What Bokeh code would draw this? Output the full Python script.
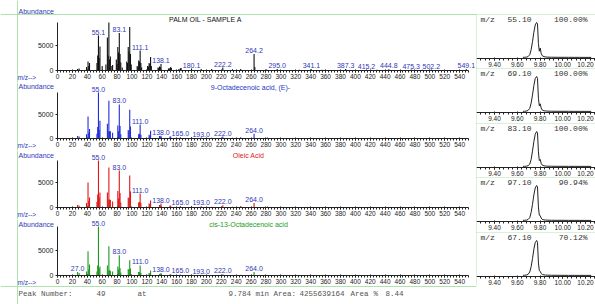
from bokeh.plotting import figure
from bokeh.layouts import column, row
from bokeh.models import (Range1d, FixedTicker, Label, LabelSet, ColumnDataSource,
                          Spacer, PrintfTickFormatter, Span)
from bokeh.core.properties import value
from bokeh.embed import file_html
from bokeh.resources import INLINE

# ---------------- data ----------------
# Spectrum 1: sample (PALM OIL - SAMPLE A)
sample_mz = [27, 29, 39, 41, 42, 43, 53, 54, 55, 56, 57, 60, 65, 67, 68, 69, 70, 71, 73, 74,
             79, 80, 81, 82, 83, 84, 85, 87, 93, 94, 95, 96, 97, 98, 99, 107, 108, 109, 110, 111,
             112, 113, 121, 122, 123, 124, 125, 126, 135, 136, 137, 138, 139, 149, 150, 151, 152,
             153, 163, 165, 166, 180, 193, 207, 222, 235, 246, 264, 265, 281, 295, 325, 341, 355,
             387, 415, 429, 445, 475, 490, 502, 520, 549]
sample_ab = [300, 400, 700, 1800, 900, 1500, 1500, 3000, 7000, 2500, 4800, 900, 1200, 6600, 3000,
             9600, 2200, 2800, 900, 1100, 2200, 1300, 4700, 3600, 7500, 3300, 1600, 600, 1800, 1500,
             4700, 3800, 8700, 3300, 1200, 900, 700, 2000, 1800, 4000, 1500, 600, 900, 800, 1500,
             1300, 2700, 900, 600, 500, 800, 700, 1300, 400, 350, 500, 700, 500, 300, 450, 500, 400,
             300, 300, 600, 250, 300, 3300, 700, 200, 300, 150, 250, 150, 300, 200, 150, 250, 200,
             150, 200, 120, 250]
sample_label_mz = [55, 83, 111, 139, 180, 222, 264, 295, 341, 387, 415, 445, 475, 502, 549]
sample_label_text = ["55.1", "83.1", "111.1", "138.1", "180.1", "222.2", "264.2", "295.0",
                     "341.1", "387.3", "415.2", "444.8", "475.3", "502.2", "549.1"]

# Library spectra (shared m/z list)
lib_mz = [27, 29, 39, 41, 42, 43, 53, 54, 55, 56, 57, 67, 68, 69, 70, 71, 74, 81, 82, 83, 84, 85,
          95, 96, 97, 98, 109, 110, 111, 112, 123, 124, 125, 137, 138, 139, 151, 152, 165, 180,
          193, 207, 222, 235, 246, 264, 282]
elaidic_ab = [500, 400, 900, 4600, 1200, 2000, 1000, 2400, 9600, 1800, 3700, 3100, 1500, 7900,
              1500, 1500, 1200, 2700, 1500, 7100, 2600, 900, 1800, 1500, 6000, 2500, 900, 1000,
              2900, 800, 800, 600, 1600, 500, 400, 600, 400, 400, 250, 250, 200, 150, 400, 150,
              250, 1000, 200]
oleic_ab = [500, 400, 900, 5000, 1300, 2000, 1100, 2600, 9400, 2000, 3000, 3000, 1600, 8000, 1600,
            1500, 1200, 3300, 1800, 7400, 2900, 1000, 2000, 1800, 6400, 3200, 1000, 1100, 2800,
            900, 800, 700, 1400, 500, 450, 800, 350, 400, 300, 300, 250, 150, 450, 150, 300, 900,
            200]
cis13_ab = [700, 500, 800, 4800, 1200, 2200, 800, 2000, 9700, 1400, 1800, 2000, 1000, 5800, 1100,
            900, 800, 1800, 1200, 4000, 1500, 600, 1300, 1100, 3000, 1400, 700, 700, 2000, 500,
            500, 400, 1000, 300, 250, 500, 200, 250, 200, 150, 150, 100, 250, 100, 150, 700, 100]
lib_label_mz = [55, 83, 111, 139, 165, 193, 222, 264]
lib_label_text = ["55.0", "83.0", "111.0", "138.0", "165.0", "193.0", "222.0", "264.0"]
cis13_label_mz = [27, 55, 83, 111, 139, 165, 193, 222, 264]
cis13_label_text = ["27.0", "55.0", "83.0", "111.0", "138.0", "165.0", "193.0", "222.0", "264.0"]

mz_ticks = [0, 20, 40, 60, 80, 100, 120, 140, 160, 180, 200, 220, 240, 260, 280, 300, 320, 340,
            360, 380, 400, 420, 440, 460, 480, 500, 520, 540]
mz_minor_ticks = list(range(0, 553, 4))
abundance_ticks = [0, 5000]

# Extracted ion chromatograms (% of max)
eic_time = [9.650, 9.665, 9.680, 9.695, 9.710, 9.722, 9.734, 9.746, 9.758, 9.770, 9.778, 9.786,
            9.794, 9.802, 9.810, 9.820, 9.835, 9.850, 9.870, 9.900, 9.950, 10.000, 10.050,
            10.100, 10.150, 10.200, 10.250]
eic_55 = [0.5, 0.6, 1.0, 2.5, 8, 22, 45, 72, 93, 100, 96, 40, 18, 27, 12, 5, 2.5, 1.5, 1.0, 0.8,
          0.6, 0.5, 0.5, 0.4, 0.4, 0.3, 0.3]
eic_69 = [0.5, 0.6, 1.2, 3.0, 9, 24, 47, 74, 94, 100, 95, 38, 16, 22, 10, 4, 2.0, 1.5, 1.0, 0.8,
          0.6, 0.5, 0.5, 0.4, 0.4, 0.3, 0.3]
eic_83 = [0.4, 0.5, 0.9, 2.2, 7, 20, 44, 71, 92, 100, 97, 42, 17, 20, 9, 4, 2.0, 1.2, 0.9, 0.7,
          0.5, 0.5, 0.4, 0.4, 0.3, 0.3, 0.3]
eic_97 = [0.5, 0.6, 1.0, 2.8, 8, 23, 46, 73, 93, 100, 96, 39, 15, 14, 7, 3, 1.8, 1.2, 0.9, 0.7,
          0.5, 0.5, 0.4, 0.4, 0.3, 0.3, 0.3]
eic_67 = [0.5, 0.7, 1.3, 3.2, 10, 25, 48, 75, 94, 100, 95, 36, 14, 12, 6, 3, 1.8, 1.2, 0.9, 0.7,
          0.5, 0.5, 0.4, 0.4, 0.3, 0.3, 0.3]
eic_ion = ["55.10", "69.10", "83.10", "97.10", "67.10"]
eic_pct = ["100.00%", "100.00%", "100.00%", "90.94%", "70.12%"]
time_ticks = [9.40, 9.60, 9.80, 10.00, 10.20]
time_minor_ticks = [9.28, 9.32, 9.36, 9.40, 9.44, 9.48, 9.52, 9.56, 9.60, 9.64, 9.68, 9.72, 9.76,
                    9.80, 9.84, 9.88, 9.92, 9.96, 10.00, 10.04, 10.08, 10.12, 10.16, 10.20, 10.24,
                    10.28]

footer_parts = ["Peak Number:", "49", "at", "9.784", "min", "Area:", "4255639164",
                "Area", "%", "8.44"]
footer_x = [18, 96, 137, 228, 255, 273, 299, 350, 373, 385]

SANS = "Liberation Sans"
MONO = "Liberation Mono"
LBLUE = "#3038b8"
AXC = "#222222"
GREEN_LINE = "#b0e2b0"

# layout geometry (page pixels; the page has no body margin)
LEFT_X, LEFT_W = 0, 476
MZ0_X, PX_PER_MZ = 57, 0.7446
RIGHT_X, RIGHT_W = 476, 119
T0, PX_PER_MIN = 9.40 - 18 / 113.75, 113.75


def place(p, L, T, h, X, Y, text, **kw):
    p.add_layout(Label(x=X - L, y=T + h - Y, x_units="screen", y_units="screen", text=text,
                       text_baseline="middle", **kw))


def style_axis(ax, size):
    ax.major_label_text_font = SANS
    ax.major_label_text_font_size = size
    ax.major_label_text_color = AXC
    ax.axis_line_color = AXC
    ax.major_tick_line_color = AXC
    ax.minor_tick_line_color = AXC


def spectrum(mz, ab, color, title, title_color, title_x, lab_mz, lab_text,
             top, h, base_y, peak_y, ab_y, title_y, footer=False, top_line=False,
             bottom_line=False):
    ymax = max(ab)
    s = ymax / (base_y - peak_y)
    x0 = -(MZ0_X - LEFT_X) / PX_PER_MZ
    x1 = x0 + LEFT_W / PX_PER_MZ
    p = figure(width=LEFT_W, height=h, x_range=Range1d(x0, x1),
               y_range=Range1d(-(top + h - base_y) * s, (base_y - top) * s),
               output_backend="svg", toolbar_location=None, title=None,
               min_border_left=0, min_border_right=0, min_border_top=0, min_border_bottom=0)
    p.outline_line_color = None
    p.grid.visible = False

    # light green frame lines of the report page
    p.add_layout(Span(location=(17 - MZ0_X) / PX_PER_MZ, dimension="height",
                      line_color=GREEN_LINE, line_width=1))
    if top_line:
        p.add_layout(Span(location=(base_y - 14) * s, dimension="width",
                          line_color=GREEN_LINE, line_width=1))
    if bottom_line:
        p.add_layout(Span(location=(base_y - 286) * s, dimension="width",
                          line_color=GREEN_LINE, line_width=1))

    p.segment(x0=mz, y0=[0] * len(mz), x1=mz, y1=ab, line_color=color, line_width=1.1)

    xa = p.xaxis[0]
    xa.fixed_location = 0
    xa.bounds = (0, 552)
    xa.ticker = FixedTicker(ticks=mz_ticks, minor_ticks=mz_minor_ticks)
    style_axis(xa, "6.5px")
    xa.major_label_standoff = 1
    xa.major_tick_out = 2
    xa.major_tick_in = 1
    xa.minor_tick_out = 2
    xa.minor_tick_in = 0

    ya = p.yaxis[0]
    ya.fixed_location = 0
    ya.bounds = (0, ymax)
    ya.ticker = FixedTicker(ticks=abundance_ticks)
    style_axis(ya, "7px")
    ya.major_label_standoff = 2
    ya.major_tick_out = 2
    ya.major_tick_in = 0
    ya.minor_tick_out = 0

    lookup = dict(zip(mz, ab))
    src = ColumnDataSource(dict(x=lab_mz, y=[lookup[m] for m in lab_mz], t=lab_text))
    p.add_layout(LabelSet(x="x", y="y", text="t", source=src, text_align="center",
                          text_baseline="bottom", y_offset=1, text_color=LBLUE,
                          text_font=value(SANS), text_font_size="7px"))

    place(p, LEFT_X, top, h, 18, ab_y, "Abundance", text_font=SANS, text_font_size="7px",
          text_color=LBLUE)
    place(p, LEFT_X, top, h, 17, base_y + 7, "m/z-->", text_font=SANS, text_font_size="6.5px",
          text_color=LBLUE)
    place(p, LEFT_X, top, h, title_x, title_y, title, text_font=SANS,
          text_font_size="7px", text_color=title_color, text_align="center")
    if footer:
        for xx, t in zip(footer_x, footer_parts):
            place(p, LEFT_X, top, h, xx, 293, t, text_font=MONO, text_font_size="7.5px",
                  text_color="#555555")
    return p


def eic(vals, ion, pct, top, h):
    px_per_pct = 35 / 100
    p = figure(width=RIGHT_W, height=h, x_range=Range1d(T0, T0 + RIGHT_W / PX_PER_MIN),
               y_range=Range1d(-(h - 43) / px_per_pct, 100 + 8 / px_per_pct),
               output_backend="svg", toolbar_location=None, title=None,
               min_border_left=0, min_border_right=0, min_border_top=0, min_border_bottom=0)
    p.outline_line_color = None
    p.grid.visible = False
    p.yaxis.visible = False
    p.line(eic_time, vals, line_color="#222222", line_width=1)
    xa = p.xaxis[0]
    xa.fixed_location = -3
    xa.ticker = FixedTicker(ticks=time_ticks, minor_ticks=time_minor_ticks)
    xa.formatter = PrintfTickFormatter(format="%.2f")
    style_axis(xa, "6.5px")
    xa.major_label_standoff = 1
    xa.major_tick_out = 2
    xa.major_tick_in = 1
    xa.minor_tick_out = 2
    xa.minor_tick_in = 0
    hy = top + 5
    kw = dict(text_font=MONO, text_font_size="8px", text_color="#333333")
    place(p, RIGHT_X, top, h, 480, hy, "m/z", **kw)
    place(p, RIGHT_X, top, h, 507, hy, ion, **kw)
    place(p, RIGHT_X, top, h, 587, hy, pct, text_align="right", **kw)
    p.styles = {"outline": "1px solid " + GREEN_LINE, "outline-offset": "-1px"}
    return p


f1 = spectrum(sample_mz, sample_ab, "#111111", "PALM OIL - SAMPLE A", "#111111", 205,
              sample_label_mz, sample_label_text, 0, 82, 70, 22, 11, 19, top_line=True)
f2 = spectrum(lib_mz, elaidic_ab, "#1f2fd8", "9-Octadecenoic acid, (E)-", "#2436c8", 250,
              lib_label_mz, lib_label_text, 82, 68, 138, 92, 86, 87)
f3 = spectrum(lib_mz, oleic_ab, "#e01818", "Oleic Acid", "#e01818", 248,
              lib_label_mz, lib_label_text, 150, 69, 207, 160, 155, 155)
f4 = spectrum(lib_mz, cis13_ab, "#1c9a1c", "cis-13-Octadecenoic acid", "#1c9a1c", 248,
              cis13_label_mz, cis13_label_text, 219, 85, 275, 226, 224, 224, footer=True,
              bottom_line=True)

eic_tops = [14, 68, 123, 177, 232]
eic_h = [54, 55, 54, 55, 54]
eics = [eic(v, i, pc, t, hh) for v, i, pc, t, hh in zip(
    [eic_55, eic_69, eic_83, eic_97, eic_67], eic_ion, eic_pct, eic_tops, eic_h)]

left = column(f1, f2, f3, f4)
right = column(Spacer(width=RIGHT_W, height=14), *eics)
page = row(left, right)

open("out.html", "w").write(file_html(page, INLINE))
